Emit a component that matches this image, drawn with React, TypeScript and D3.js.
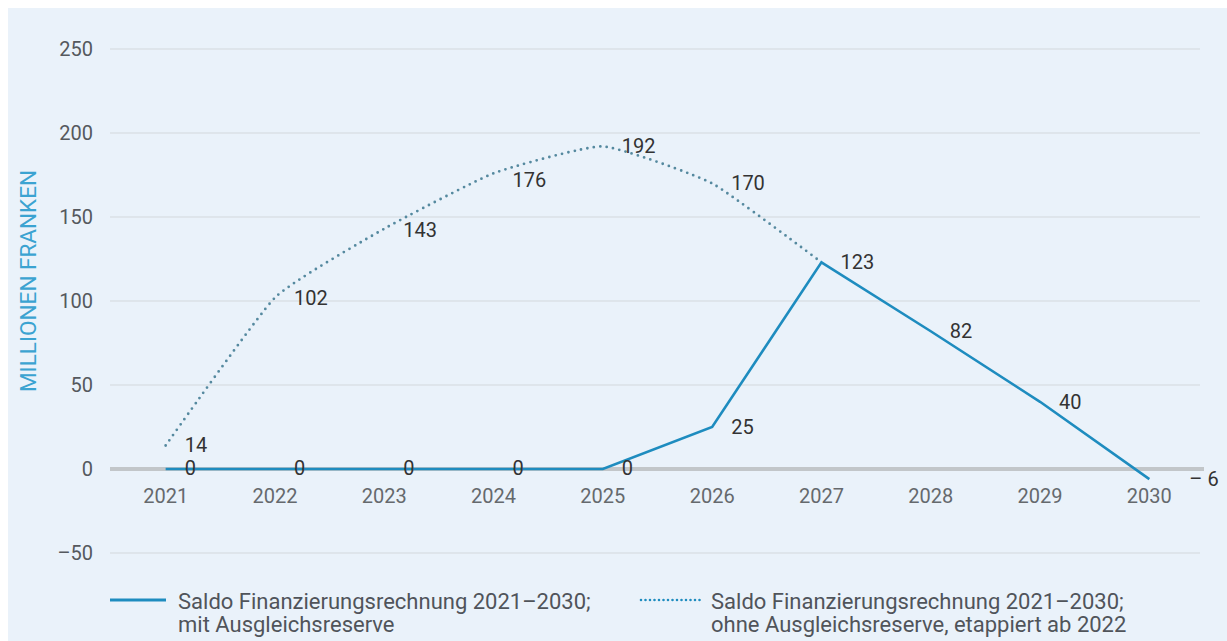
import React from "react";
import * as d3 from "d3";

const years = ["2021", "2022", "2023", "2024", "2025", "2026", "2027", "2028", "2029", "2030"];
const mitReserve = [0, 0, 0, 0, 0, 25, 123, 82, 40, -6];
const ohneReserveYears = ["2021", "2022", "2023", "2024", "2025", "2026", "2027"];
const ohneReserve = [14, 102, 143, 176, 192, 170, 123];
const ohneLabels = [14, 102, 143, 176, 192, 170];
const yTicks = [-50, 0, 50, 100, 150, 200, 250];
const legendMit = ["Saldo Finanzierungsrechnung 2021–2030;", "mit Ausgleichsreserve"];
const legendOhne = ["Saldo Finanzierungsrechnung 2021–2030;", "ohne Ausgleichsreserve, etappiert ab 2022"];

const W = 1219;
const H = 633;
const BG = "#eaf2fa";
const BLUE = "#1e8cbf";
const DOT = "#55899f";
const FONT = "Roboto, 'Noto Sans', sans-serif";

export default function App() {
  // svg is offset by 8px (body margin)
  const x = d3.scaleBand<string>().domain(years).range([103, 1196]).padding(0);
  const cx = (d: string) => (x(d) as number) + x.bandwidth() / 2;
  const y = d3.scaleLinear().domain([-50, 250]).range([545, 41]);

  const solid = d3
    .line<number>()
    .x((_, i) => cx(years[i]))
    .y((d) => y(d));
  const dotted = d3
    .line<number>()
    .x((_, i) => cx(ohneReserveYears[i]))
    .y((d) => y(d))
    .curve(d3.curveCardinal.tension(0.55));

  const fmt = (v: number) => (v < 0 ? "– " + Math.abs(v) : String(v));

  return (
    <svg
      width={W}
      height={H}
      style={{ position: "fixed", left: 8, top: 8, display: "block", background: BG }}
      fontFamily={FONT}
    >
      <rect x={0} y={0} width={W} height={H} fill={BG} />
      {/* grid */}
      {yTicks.map((t) => (
        <g key={t}>
          {t !== 0 && (
            <line x1={102} x2={1192} y1={y(t)} y2={y(t)} stroke="#d3d8dc" strokeWidth={1} />
          )}
          <text x={85} y={y(t)} dy="0.35em" textAnchor="end" fontSize={20} fill="#55595e">
            {t < 0 ? "–" + Math.abs(t) : t}
          </text>
        </g>
      ))}
      <line x1={102} x2={1196} y1={y(0)} y2={y(0)} stroke="#c2c6c9" strokeWidth={4} />
      {/* x labels */}
      {years.map((yr) => (
        <text key={yr} x={cx(yr)} y={y(0) + 27} dy="0.35em" textAnchor="middle" fontSize={20} fill="#65696d">
          {yr}
        </text>
      ))}
      {/* y title */}
      <text
        transform={`translate(20,273) rotate(-90)`}
        textAnchor="middle"
        dy="0.35em"
        fontSize={22.5}
        fill="#3ba3d1"
      >
        MILLIONEN FRANKEN
      </text>
      {/* dotted series */}
      <path
        d={dotted(ohneReserve) || ""}
        fill="none"
        stroke={DOT}
        strokeWidth={2.8}
        strokeDasharray="0 6.5"
        strokeLinecap="round"
      />
      {/* solid series */}
      <path d={solid(mitReserve) || ""} fill="none" stroke={BLUE} strokeWidth={2.6} strokeLinejoin="miter" />
      {/* labels dotted */}
      {ohneLabels.map((v, i) => (
        <text
          key={"o" + i}
          x={cx(ohneReserveYears[i]) + 19}
          y={y(v) + (v === 176 ? 7 : v === 143 ? 1 : 0)}
          dy="0.35em"
          fontSize={20}
          fill="#333"
        >
          {v}
        </text>
      ))}
      {/* labels solid */}
      {mitReserve.map((v, i) => (
        <text
          key={"m" + i}
          x={cx(years[i]) + (v < 0 ? 40 : 19)}
          y={y(v) + (v === 0 ? -1 : 0)}
          dy="0.35em"
          fontSize={20}
          fill="#333"
        >
          {fmt(v)}
        </text>
      ))}
      {/* legend */}
      <line x1={102} x2={158} y1={592} y2={592} stroke={BLUE} strokeWidth={3} />
      {legendMit.map((t, i) => (
        <text key={"lm" + i} x={170} y={593 + i * 23} dy="0.35em" fontSize={22} fill="#50545a">
          {t}
        </text>
      ))}
      <line
        x1={633}
        x2={692}
        y1={592}
        y2={592}
        stroke={BLUE}
        strokeWidth={2.6}
        strokeDasharray="0 4.5"
        strokeLinecap="round"
      />
      {legendOhne.map((t, i) => (
        <text key={"lo" + i} x={703} y={593 + i * 23} dy="0.35em" fontSize={22} fill="#50545a">
          {t}
        </text>
      ))}
    </svg>
  );
}
